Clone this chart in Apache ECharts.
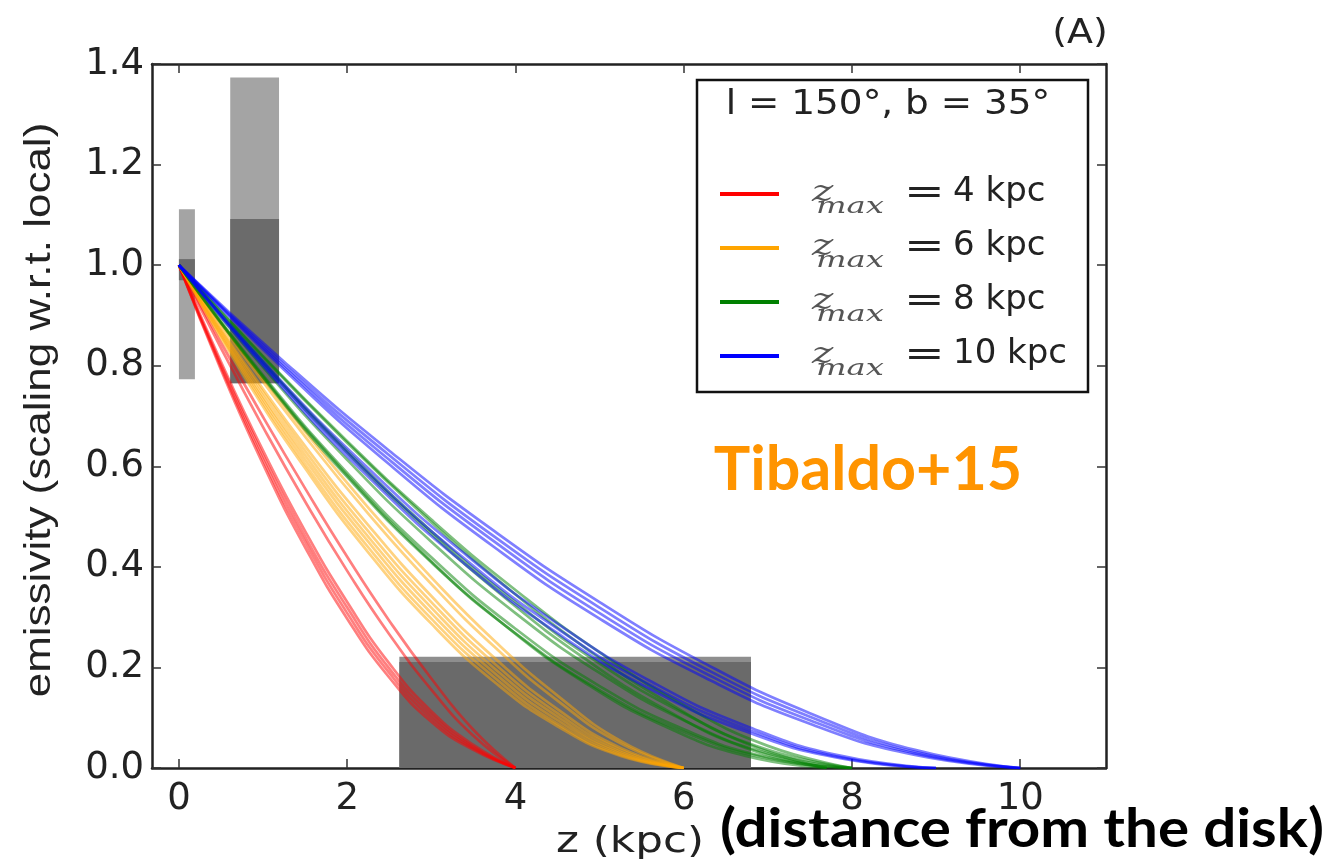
<!DOCTYPE html>
<html>
<head>
<meta charset="utf-8">
<script src="https://cdn.jsdelivr.net/npm/echarts@6/dist/echarts.min.js"></script>
<style>html,body{margin:0;padding:0;background:#fff}#c{width:1328px;height:866px}</style>
</head>
<body>
<div id="c"></div>
<script>
// ---- data ----
const xTicks = [0, 2, 4, 6, 8, 10];
const yMin = 0, yMax = 1.4, yStep = 0.2;
const legendLabels = ['4 kpc', '6 kpc', '8 kpc', '10 kpc'];
const groupColors = ['#ff0000', '#ffa500', '#008000', '#0000ff'];

// error boxes: [x0, x1, y0, y1]
const boxes = [
  [0.0, 0.19, 0.773, 1.111],
  [0.0, 0.19, 0.970, 1.012],
  [0.61, 1.19, 0.765, 1.373],
  [0.61, 1.19, 0.765, 1.092],
  [2.62, 6.80, 0.0, 0.221],
  [2.62, 6.80, 0.0, 0.211]
];
const boxShades = ['#a4a4a4', '#6b6b6b', '#a4a4a4', '#6b6b6b', '#8e8e8e', '#6a6a6a'];

// z_max = 4 kpc
const redX = [0, 0.5, 1, 1.5, 2, 2.5, 3, 3.5, 4];
const redCurves = [
  [1, .792, .604, .439, .297, .180, .092, .036, 0],
  [1, .797, .613, .450, .308, .189, .099, .039, 0],
  [1, .802, .622, .460, .319, .198, .106, .042, 0],
  [1, .808, .631, .471, .330, .208, .113, .046, 0],
  [1, .835, .678, .530, .392, .266, .156, .064, 0],
  [1, .846, .698, .556, .420, .293, .178, .076, 0]
];
// z_max = 6 kpc
const orangeX = [0, 0.75, 1.5, 2.25, 3, 3.75, 4.5, 5.25, 6];
const orangeCurves = [
  [1, .786, .596, .429, .287, .171, .083, .024, 0],
  [1, .792, .604, .439, .297, .180, .088, .026, 0],
  [1, .797, .613, .450, .308, .189, .095, .029, 0],
  [1, .802, .622, .460, .319, .198, .102, .032, 0],
  [1, .808, .631, .471, .330, .208, .109, .036, 0],
  [1, .813, .640, .483, .342, .219, .117, .040, 0],
  [1, .824, .659, .506, .366, .241, .134, .049, 0],
  [1, .829, .669, .518, .379, .253, .144, .054, 0]
];
// z_max = 8 kpc
const greenXA = [0, 1, 2, 3, 4, 5, 6, 7, 8];
const greenCurvesA = [
  [1, .776, .579, .409, .268, .155, .072, .019, 0],
  [1, .781, .587, .419, .277, .163, .077, .021, 0],
  [1, .797, .613, .450, .308, .189, .095, .029, 0],
  [1, .808, .631, .471, .330, .208, .109, .036, 0],
  [1, .819, .650, .494, .354, .230, .125, .044, 0]
];
const greenXB = [0, 0.9625, 1.925, 2.8875, 3.85, 4.8125, 5.775, 6.7375, 7.7];
const greenCurvesB = [
  [1, .786, .596, .429, .287, .171, .083, .024, 0],
  [1, .813, .640, .483, .342, .219, .117, .040, 0],
  [1, .824, .659, .506, .366, .241, .134, .049, 0]
];
// z_max = 10 kpc
const blueXA = [0, 1.25, 2.5, 3.75, 5, 6.25, 7.5, 8.75, 10];
const blueCurvesA = [
  [1, .792, .604, .439, .297, .180, .088, .026, 0],
  [1, .797, .613, .450, .308, .189, .095, .029, 0],
  [1, .802, .622, .460, .319, .198, .102, .032, 0],
  [1, .808, .631, .471, .330, .208, .109, .036, 0]
];
const blueXB = [0, 1.125, 2.25, 3.375, 4.5, 5.625, 6.75, 7.875, 9];
const blueCurvesB = [
  [1, .776, .579, .409, .268, .155, .072, .019, 0],
  [1, .781, .587, .419, .277, .163, .077, .021, 0],
  [1, .786, .596, .429, .287, .171, .083, .024, 0]
];

// ---- chart ----
const chart = echarts.init(document.getElementById('c'), null, {renderer: 'canvas'});
const AX = '#222';
const series = [];
series.push({
  type: 'custom',
  z: 1,
  silent: true,
  data: boxes,
  encode: {x: [0, 1], y: [2, 3]},
  renderItem: function (params, api) {
    const p0 = api.coord([api.value(0), api.value(3)]);
    const p1 = api.coord([api.value(1), api.value(2)]);
    return {
      type: 'rect',
      shape: {x: p0[0], y: p0[1], width: p1[0] - p0[0], height: p1[1] - p0[1]},
      style: {fill: boxShades[params.dataIndex]}
    };
  }
});
function addGroup(xs, curves, color) {
  curves.forEach(function (ys) {
    series.push({
      type: 'line',
      z: 3,
      silent: true,
      showSymbol: false,
      smooth: 0.5,
      data: xs.map(function (x, i) { return [x, ys[i]]; }),
      lineStyle: {color: color, width: 2.7, opacity: 0.5}
    });
  });
}
addGroup(redX, redCurves, groupColors[0]);
addGroup(orangeX, orangeCurves, groupColors[1]);
addGroup(greenXA, greenCurvesA, groupColors[2]);
addGroup(greenXB, greenCurvesB, groupColors[2]);
addGroup(blueXA, blueCurvesA, groupColors[3]);
addGroup(blueXB, blueCurvesB, groupColors[3]);

const axisLine = {show: true, onZero: false, lineStyle: {color: AX, width: 2.5}};
const tickStyle = {color: '#333', width: 1.5};
const xBase = {type: 'value', min: -0.32, max: 11.02, splitLine: {show: false}};
const yBase = {type: 'value', min: yMin, max: yMax, interval: yStep, splitLine: {show: false}};

// legend graphics
const legendGraphics = [];
const rowY = [194, 248, 302, 356];
legendLabels.forEach(function (lab, i) {
  legendGraphics.push({type: 'line', shape: {x1: 720, y1: rowY[i], x2: 779, y2: rowY[i]},
    style: {stroke: groupColors[i], lineWidth: 4}});
  legendGraphics.push({type: 'text', x: 812, y: rowY[i] - 1, scaleX: 1.35, style: {text: 'z',
    font: 'italic 30px "DejaVu Serif"', fill: '#555', textAlign: 'left', textVerticalAlign: 'middle'}});
  legendGraphics.push({type: 'text', x: 816, y: rowY[i] + 13, scaleX: 1.4, style: {text: 'max',
    font: 'italic 23px "DejaVu Serif"', fill: '#555', textAlign: 'left', textVerticalAlign: 'middle'}});
  legendGraphics.push({type: 'text', x: 904, y: rowY[i], scaleX: 1.35, style: {text: '=',
    font: '36px "DejaVu Sans"', fill: '#222', textAlign: 'left', textVerticalAlign: 'middle'}});
  legendGraphics.push({type: 'text', x: 953, y: rowY[i] - 2, style: {text: lab,
    font: '34px "DejaVu Sans"', fill: '#222', textAlign: 'left', textVerticalAlign: 'middle'}});
});

chart.setOption({
  animation: false,
  backgroundColor: '#fff',
  grid: {left: 152, right: 222, top: 64, bottom: 98},
  xAxis: [
    Object.assign({}, xBase, {position: 'bottom',
      axisLine: axisLine,
      axisTick: {show: true, inside: true, length: 9, customValues: xTicks, lineStyle: tickStyle},
      axisLabel: {show: true, customValues: xTicks, fontSize: 37, fontFamily: 'DejaVu Sans', color: AX, margin: 13}}),
    Object.assign({}, xBase, {position: 'top',
      axisLine: axisLine,
      axisTick: {show: true, inside: true, length: 9, customValues: xTicks, lineStyle: tickStyle},
      axisLabel: {show: false}})
  ],
  yAxis: [
    Object.assign({}, yBase, {position: 'left',
      axisLine: axisLine,
      axisTick: {show: true, inside: true, length: 9, lineStyle: tickStyle},
      axisLabel: {show: true, fontSize: 37, fontFamily: 'DejaVu Sans', color: AX, margin: 8,
        formatter: function (v) { return v.toFixed(1); }}}),
    Object.assign({}, yBase, {position: 'right',
      axisLine: axisLine,
      axisTick: {show: true, inside: true, length: 9, lineStyle: tickStyle},
      axisLabel: {show: false}})
  ],
  series: series,
  graphic: [
    {type: 'text', x: 1080, y: 34, scaleX: 1.15, style: {text: '(A)', font: '33px "DejaVu Sans"', fill: AX,
      textAlign: 'center', textVerticalAlign: 'middle'}},
    {type: 'text', x: 40, y: 410, rotation: Math.PI / 2, scaleY: 0.85, style: {text: 'emissivity (scaling w.r.t. local)',
      font: '44px "Liberation Sans"', fill: AX, textAlign: 'center', textVerticalAlign: 'middle'}},
    {type: 'text', x: 630, y: 843, scaleX: 1.25, style: {text: 'z (kpc)', font: '35px "DejaVu Sans"', fill: AX,
      textAlign: 'center', textVerticalAlign: 'middle'}},
    {type: 'text', x: 1022, y: 830, scaleX: 1.1, style: {text: '(distance from the disk)', font: 'bold 53px Lato', fill: '#000',
      textAlign: 'center', textVerticalAlign: 'middle'}},
    {type: 'text', x: 868, y: 470, z: 10, style: {text: 'Tibaldo+15', font: 'bold 61px Lato', fill: '#ff9400',
      textAlign: 'center', textVerticalAlign: 'middle'}},
    {type: 'group', z: 20, children: [
      {type: 'rect', shape: {x: 697, y: 80, width: 391, height: 312},
        style: {fill: '#fff', stroke: '#111', lineWidth: 2.5}},
      {type: 'text', x: 888, y: 105, scaleX: 1.1, style: {text: 'l = 150°, b = 35°', font: '34px "DejaVu Sans"', fill: AX,
        textAlign: 'center', textVerticalAlign: 'middle'}}
    ].concat(legendGraphics)}
  ]
});
</script>
</body>
</html>
